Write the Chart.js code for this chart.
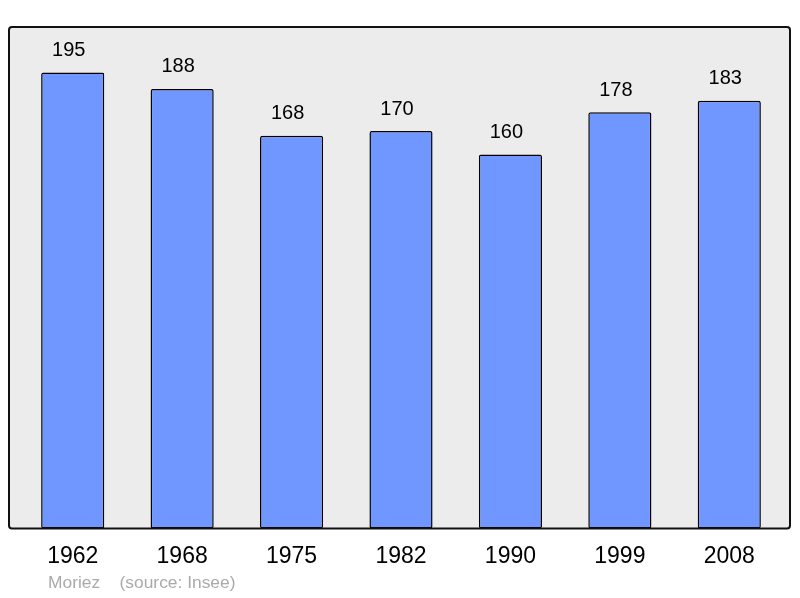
<!DOCTYPE html>
<html>
<head>
<meta charset="utf-8">
<script src="https://cdn.jsdelivr.net/npm/chart.js@4/dist/chart.umd.min.js"></script>
<style>
  html, body { margin: 0; padding: 0; background: #fff; }
  #wrap { position: relative; width: 800px; height: 598px; }
</style>
</head>
<body>
<div id="wrap"><canvas id="myChart" width="800" height="598"></canvas></div>
<script>
const years = ['1962', '1968', '1975', '1982', '1990', '1999', '2008'];
const population = [195, 188, 168, 170, 160, 178, 183];
const yMax = 214.5;

// grey panel behind the bars
const panelPlugin = {
  id: 'panel',
  beforeDatasetsDraw(chart) {
    const { ctx, chartArea } = chart;
    const x = chartArea.left - 9, y = chartArea.top, w = chartArea.right + 6 - x, h = chartArea.bottom - y;
    ctx.save();
    ctx.beginPath();
    ctx.roundRect(x, y, w, h, 3);
    ctx.fillStyle = '#ececec';
    ctx.fill();
    ctx.restore();
  },
  afterDatasetsDraw(chart) {
    const { ctx, chartArea } = chart;
    const x = chartArea.left - 9, y = chartArea.top, w = chartArea.right + 6 - x, h = chartArea.bottom - y;
    ctx.save();
    ctx.beginPath();
    ctx.roundRect(x, y, w, h, 3);
    ctx.lineWidth = 2;
    ctx.strokeStyle = '#111';
    ctx.stroke();
    // values above bars
    ctx.font = '20px "Liberation Sans", Arial, sans-serif';
    ctx.fillStyle = '#000';
    ctx.textAlign = 'center';
    ctx.textBaseline = 'middle';
    chart.getDatasetMeta(0).data.forEach((bar, i) => {
      ctx.fillText(population[i], bar.x - 4, bar.y - 22);
    });
    // credit line
    ctx.font = '17.4px "Liberation Sans", Arial, sans-serif';
    ctx.fillStyle = '#aaaaaa';
    ctx.textAlign = 'left';
    ctx.fillText('Moriez    (source: Insee)', 48, 583);
    ctx.restore();
  }
};

new Chart(document.getElementById('myChart'), {
  type: 'bar',
  data: {
    labels: years,
    datasets: [{
      data: population,
      backgroundColor: '#7096ff',
      borderColor: '#000',
      borderWidth: 1.5,
      borderRadius: 2,
      borderSkipped: false,
      barPercentage: 0.577,
      categoryPercentage: 1
    }]
  },
  options: {
    responsive: false,
    animation: false,
    layout: { padding: { left: 18, right: 16, top: 27, bottom: 14 } },
    plugins: { legend: { display: false }, tooltip: { enabled: false } },
    scales: {
      x: {
        grid: { display: false, drawTicks: false },
        border: { display: false },
        ticks: {
          padding: 14,
          color: '#000',
          font: { size: 23, family: '"Liberation Sans", Arial, sans-serif' }
        }
      },
      y: {
        display: false,
        min: 0,
        max: yMax
      }
    }
  },
  plugins: [panelPlugin]
});
</script>
</body>
</html>
